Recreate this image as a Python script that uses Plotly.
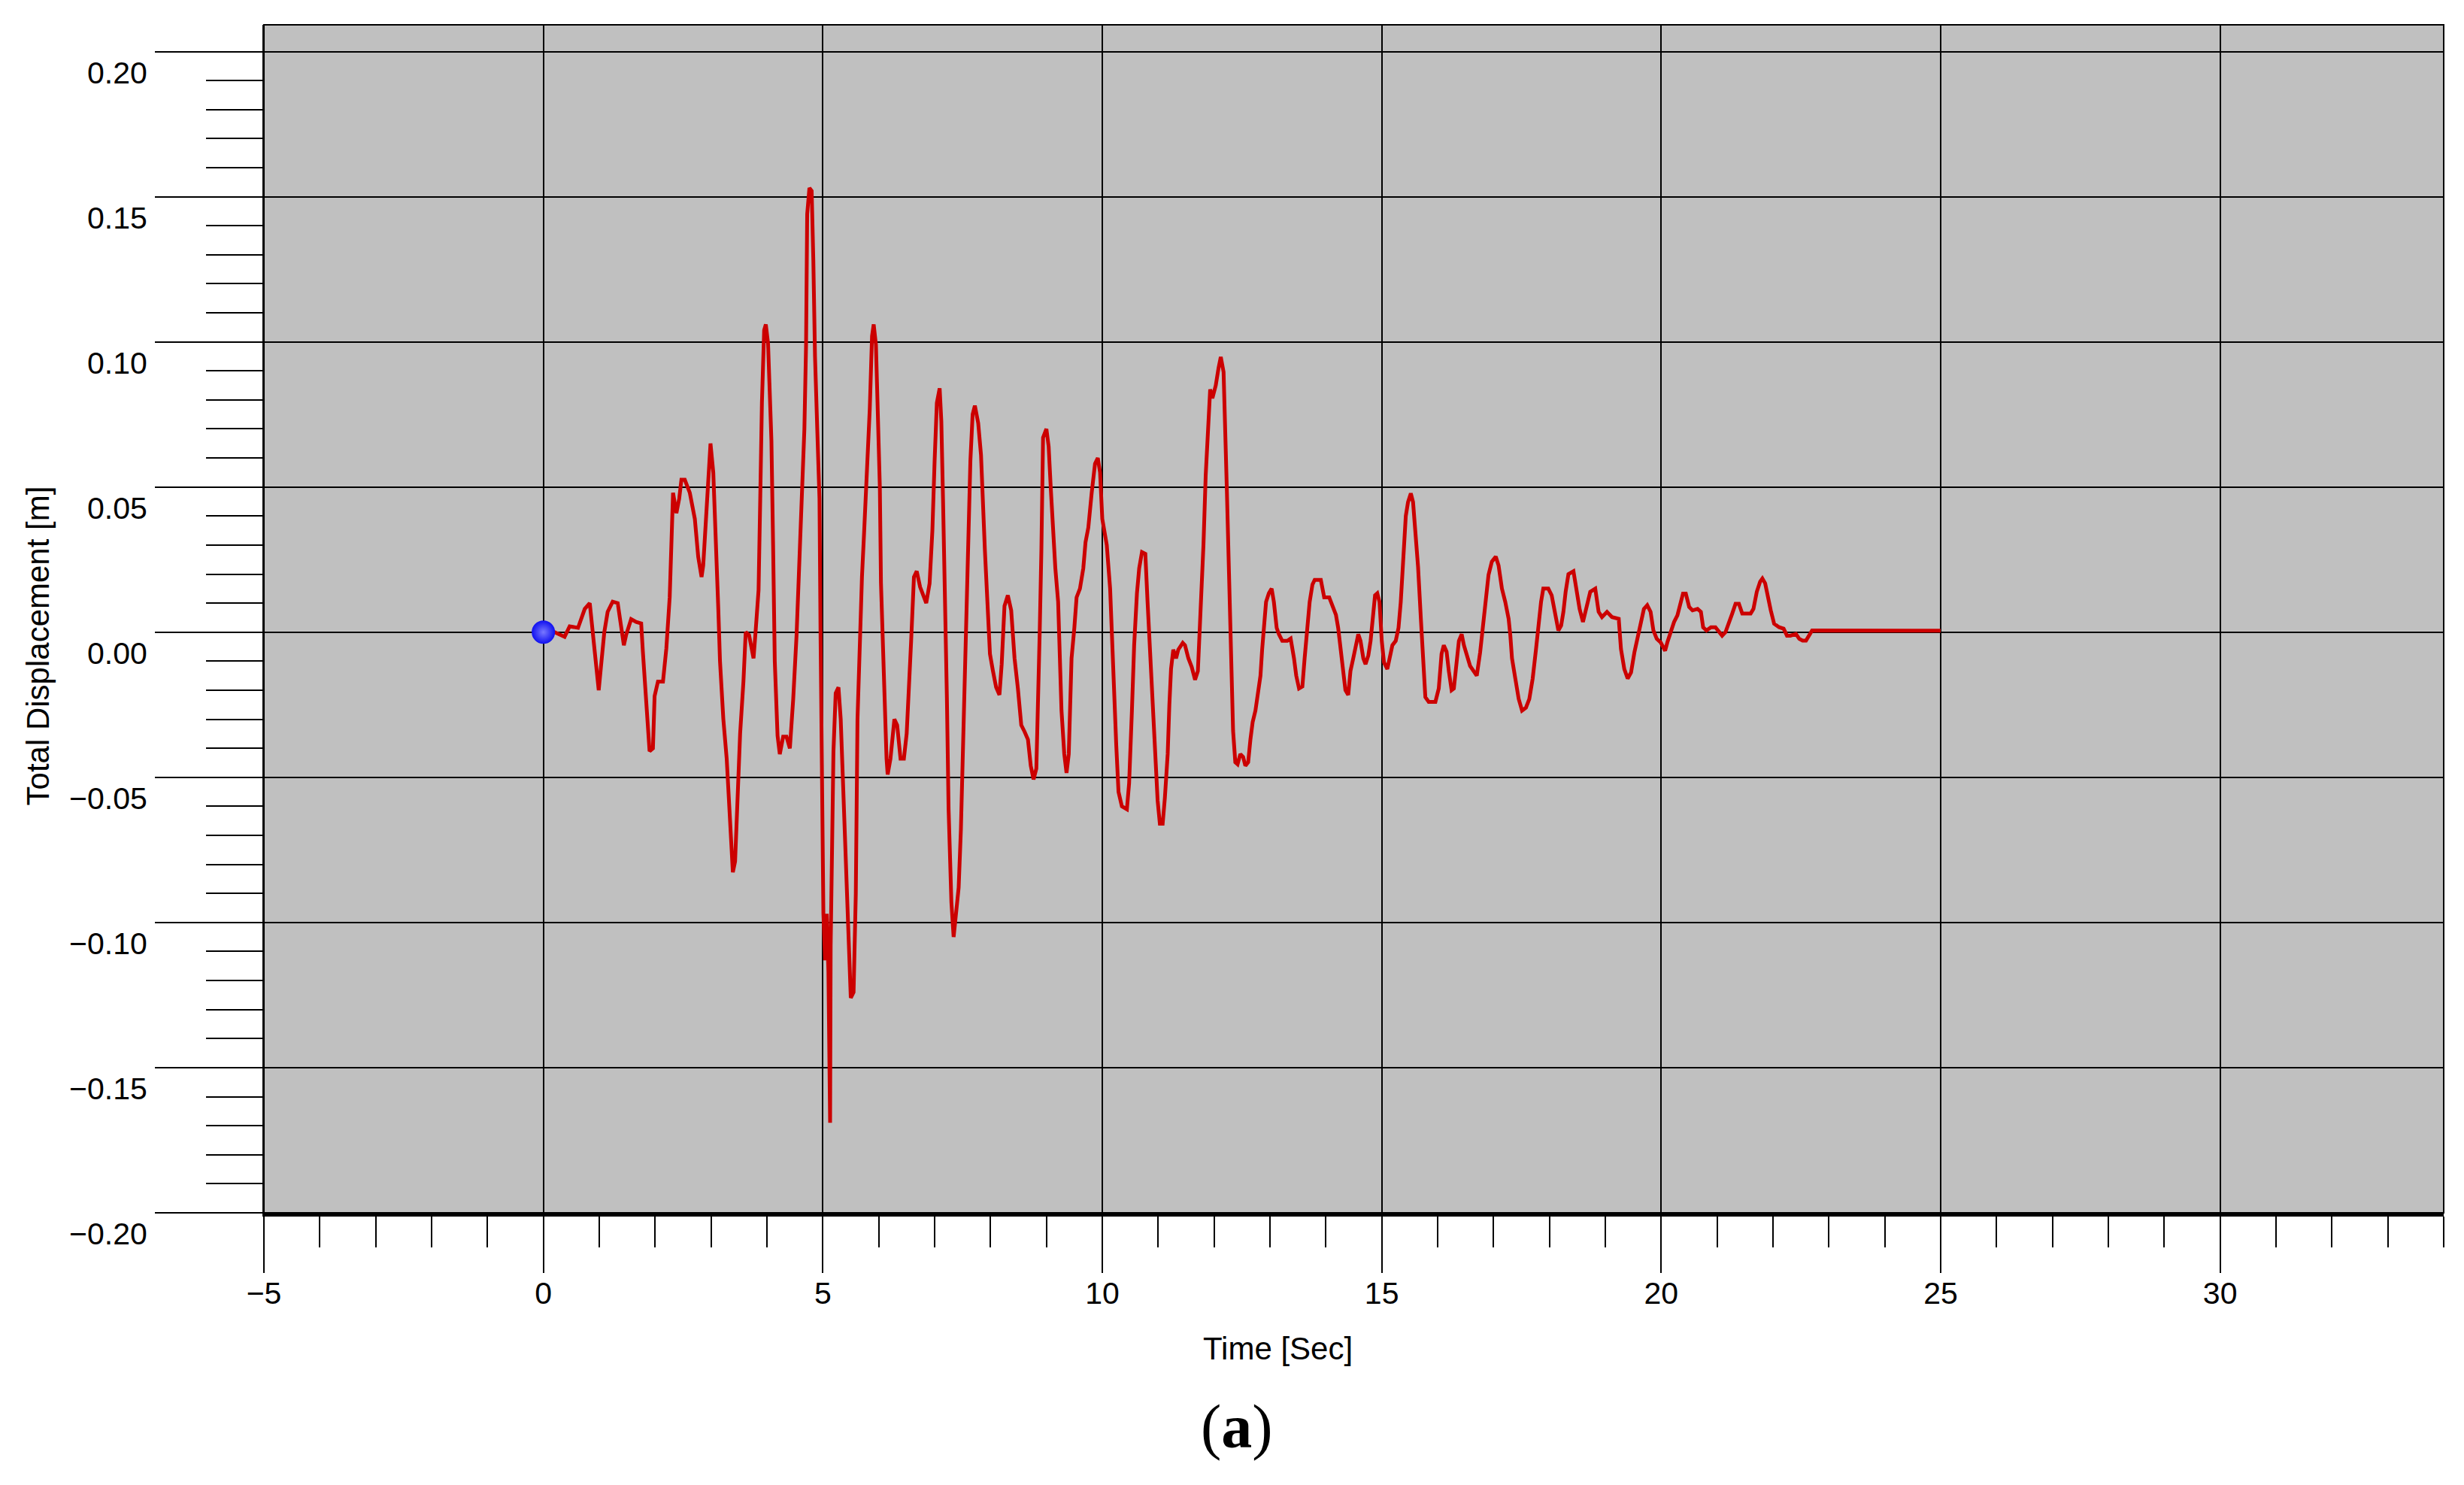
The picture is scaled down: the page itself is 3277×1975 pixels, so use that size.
import plotly.graph_objects as go

# Digitized time history (Time [Sec], Total Displacement [m])
time_s = [
    0.00, 0.20, 0.38, 0.47, 0.62, 0.74, 0.83, 0.88, 0.93, 0.99, 1.03, 1.09, 1.15, 1.24, 1.33, 1.39,
    1.44, 1.48, 1.57, 1.66, 1.75, 1.78, 1.84, 1.90, 1.96, 1.99, 2.05, 2.14, 2.20, 2.26, 2.29, 2.32,
    2.38, 2.43, 2.47, 2.53, 2.62, 2.71, 2.77, 2.83, 2.86, 2.91, 2.95, 2.99, 3.04, 3.09, 3.13, 3.16,
    3.22, 3.28, 3.34, 3.39, 3.43, 3.47, 3.52, 3.58, 3.62, 3.68, 3.76, 3.80, 3.85, 3.88, 3.91, 3.95,
    3.98, 4.02, 4.08, 4.11, 4.14, 4.19, 4.23, 4.29, 4.35, 4.41, 4.47, 4.53, 4.58, 4.62, 4.67, 4.70,
    4.72, 4.76, 4.80, 4.83, 4.86, 4.90, 4.94, 4.96, 4.98, 5.01, 5.04, 5.07, 5.10, 5.13, 5.14, 5.16,
    5.19, 5.23, 5.28, 5.32, 5.37, 5.42, 5.46, 5.50, 5.55, 5.59, 5.62, 5.66, 5.70, 5.74, 5.79, 5.84,
    5.88, 5.91, 5.95, 5.98, 6.02, 6.04, 6.09, 6.14, 6.16, 6.21, 6.28, 6.33, 6.39, 6.45, 6.50, 6.54,
    6.58, 6.63, 6.68, 6.74, 6.81, 6.85, 6.91, 6.96, 7.00, 7.04, 7.09, 7.12, 7.15, 7.19, 7.22, 7.25,
    7.30, 7.34, 7.39, 7.43, 7.47, 7.51, 7.54, 7.57, 7.60, 7.64, 7.68, 7.72, 7.78, 7.83, 7.90, 7.96,
    7.99, 8.04, 8.10, 8.16, 8.20, 8.25, 8.31, 8.37, 8.43, 8.49, 8.55, 8.61, 8.67, 8.72, 8.77, 8.82,
    8.85, 8.88, 8.91, 8.94, 9.00, 9.04, 9.08, 9.12, 9.16, 9.21, 9.24, 9.27, 9.32, 9.36, 9.40, 9.45,
    9.50, 9.54, 9.60, 9.66, 9.70, 9.75, 9.81, 9.87, 9.92, 9.96, 10.00, 10.08, 10.14, 10.20, 10.25, 10.29,
    10.35, 10.44, 10.48, 10.53, 10.57, 10.62, 10.66, 10.71, 10.77, 10.81, 10.86, 10.90, 10.94, 10.99, 11.03, 11.08,
    11.12, 11.17, 11.20, 11.23, 11.27, 11.32, 11.36, 11.44, 11.48, 11.54, 11.60, 11.66, 11.71, 11.73, 11.77, 11.81,
    11.85, 11.90, 11.93, 11.97, 12.03, 12.08, 12.12, 12.17, 12.20, 12.23, 12.27, 12.31, 12.34, 12.38, 12.42, 12.47,
    12.52, 12.56, 12.61, 12.65, 12.69, 12.74, 12.79, 12.83, 12.86, 12.89, 12.93, 12.98, 13.03, 13.07, 13.12, 13.16,
    13.22, 13.31, 13.37, 13.43, 13.47, 13.52, 13.58, 13.62, 13.67, 13.71, 13.76, 13.80, 13.91, 13.97, 14.06, 14.12,
    14.18, 14.22, 14.26, 14.31, 14.35, 14.40, 14.44, 14.49, 14.53, 14.58, 14.62, 14.67, 14.71, 14.76, 14.80, 14.84,
    14.88, 14.92, 14.96, 15.00, 15.04, 15.10, 15.14, 15.19, 15.25, 15.30, 15.34, 15.38, 15.43, 15.47, 15.52, 15.56,
    15.61, 15.65, 15.70, 15.74, 15.78, 15.84, 15.90, 15.96, 16.02, 16.07, 16.11, 16.16, 16.20, 16.25, 16.29, 16.33,
    16.38, 16.43, 16.47, 16.58, 16.64, 16.70, 16.76, 16.81, 16.85, 16.91, 16.97, 17.04, 17.09, 17.15, 17.21, 17.27,
    17.30, 17.33, 17.39, 17.45, 17.51, 17.58, 17.64, 17.70, 17.76, 17.81, 17.85, 17.89, 17.98, 18.04, 18.10, 18.16,
    18.21, 18.25, 18.29, 18.34, 18.43, 18.48, 18.54, 18.60, 18.66, 18.73, 18.82, 18.88, 18.94, 19.03, 19.12, 19.24,
    19.28, 19.34, 19.40, 19.46, 19.52, 19.58, 19.63, 19.69, 19.75, 19.81, 19.86, 19.92, 19.99, 20.07, 20.11, 20.18,
    20.23, 20.29, 20.35, 20.39, 20.44, 20.50, 20.56, 20.65, 20.71, 20.75, 20.81, 20.89, 20.97, 21.05, 21.09, 21.15,
    21.21, 21.27, 21.33, 21.39, 21.45, 21.51, 21.60, 21.65, 21.71, 21.77, 21.81, 21.86, 21.90, 21.96, 22.02, 22.11,
    22.19, 22.25, 22.31, 22.41, 22.47, 22.53, 22.59, 22.65, 22.70, 25.00,
]

displacement_m = [
    0.0, 0.0, -0.0016, 0.002, 0.0015, 0.008, 0.010, 0.001, -0.010, -0.020, -0.012, 0.0, 0.007, 0.0105, 0.010, 0.001,
    -0.0045, -0.001, 0.0045, 0.0035, 0.003, -0.0067, -0.023, -0.041, -0.040, -0.022, -0.017, -0.017, -0.0056, 0.012, 0.030, 0.048,
    0.041, 0.046, 0.0525, 0.0525, 0.048, 0.039, 0.026, 0.019, 0.023, 0.039, 0.057, 0.065, 0.055, 0.032, 0.0078, -0.010,
    -0.030, -0.0436, -0.066, -0.0827, -0.079, -0.057, -0.035, -0.0168, 0.0, -0.001, -0.009, 0.001, 0.0145, 0.046, 0.079, 0.104,
    0.106, 0.0994, 0.066, 0.030, -0.010, -0.0357, -0.042, -0.036, -0.036, -0.040, -0.023, -0.001, 0.023, 0.047, 0.070, 0.099,
    0.144, 0.153, 0.152, 0.128, 0.095, 0.070, 0.046, -0.003, -0.055, -0.097, -0.113, -0.097, -0.117, -0.169, -0.108, -0.084,
    -0.041, -0.021, -0.019, -0.030, -0.057, -0.079, -0.106, -0.126, -0.124, -0.090, -0.030, -0.001, 0.019, 0.035, 0.055, 0.077,
    0.102, 0.106, 0.099, 0.0815, 0.050, 0.017, -0.019, -0.0436, -0.049, -0.0436, -0.030, -0.032, -0.0436, -0.0436, -0.035, -0.021,
    -0.003, 0.019, 0.021, 0.0156, 0.012, 0.010, 0.0168, 0.035, 0.059, 0.079, 0.084, 0.0726, 0.046, 0.012, -0.023, -0.061,
    -0.093, -0.105, -0.097, -0.088, -0.068, -0.037, -0.0056, 0.0168, 0.037, 0.059, 0.075, 0.078, 0.072, 0.061, 0.028, 0.0075,
    -0.0075, -0.013, -0.019, -0.0216, -0.011, 0.009, 0.0127, 0.0075, -0.009, -0.0194, -0.032, -0.0343, -0.037, -0.046, -0.0507, -0.047,
    -0.028, 0.0, 0.028, 0.067, 0.070, 0.064, 0.049, 0.034, 0.022, 0.0104, -0.0067, -0.027, -0.042, -0.0485, -0.042, -0.009,
    0.0015, 0.012, 0.015, 0.022, 0.031, 0.036, 0.048, 0.058, 0.060, 0.055, 0.039, 0.030, 0.015, -0.018, -0.039, -0.055,
    -0.060, -0.061, -0.052, -0.027, -0.0045, 0.0134, 0.022, 0.0276, 0.027, 0.0104, -0.009, -0.028, -0.045, -0.058, -0.066, -0.066,
    -0.057, -0.042, -0.025, -0.0127, -0.006, -0.009, -0.006, -0.0037, -0.0045, -0.009, -0.012, -0.0164, -0.0134, -0.0045, 0.0104, 0.030,
    0.054, 0.076, 0.0836, 0.0806, 0.085, 0.091, 0.0948, 0.0896, 0.0724, 0.048, 0.018, -0.012, -0.034, -0.0448, -0.0455, -0.042,
    -0.043, -0.046, -0.0448, -0.037, -0.031, -0.027, -0.021, -0.015, -0.006, 0.003, 0.0104, 0.0134, 0.015, 0.0104, 0.0015, -0.0007,
    -0.003, -0.003, -0.0022, -0.009, -0.015, -0.0194, -0.0187, -0.009, 0.0015, 0.0104, 0.0164, 0.018, 0.018, 0.012, 0.012, 0.009,
    0.006, 0.0015, -0.006, -0.0134, -0.020, -0.0216, -0.0134, -0.009, -0.0045, -0.0007, -0.003, -0.009, -0.011, -0.008, -0.003, 0.006,
    0.0127, 0.0134, 0.0104, -0.003, -0.0104, -0.0127, -0.009, -0.0045, -0.003, 0.0015, 0.0104, 0.025, 0.040, 0.0448, 0.0478, 0.0448,
    0.034, 0.0224, 0.0045, -0.009, -0.0224, -0.024, -0.024, -0.024, -0.0194, -0.0075, -0.0045, -0.0067, -0.0134, -0.020, -0.0194, -0.012,
    -0.003, -0.0007, -0.0045, -0.0116, -0.0133, -0.015, -0.007, 0.0023, 0.009, 0.0197, 0.0243, 0.026, 0.023, 0.015, 0.0104, 0.0046,
    -0.001, -0.009, -0.016, -0.023, -0.027, -0.026, -0.023, -0.016, -0.0058, 0.0035, 0.0104, 0.015, 0.015, 0.0127, 0.007, 0.0006,
    0.0023, 0.007, 0.0139, 0.020, 0.021, 0.015, 0.008, 0.0035, 0.008, 0.0139, 0.015, 0.007, 0.0052, 0.007, 0.0052, 0.0046,
    -0.0058, -0.0127, -0.016, -0.0139, -0.007, -0.0012, 0.0035, 0.008, 0.0093, 0.007, 0.0006, -0.0023, -0.0035, -0.0064, -0.0035, 0.0012,
    0.0035, 0.0058, 0.0104, 0.0133, 0.0133, 0.0087, 0.0075, 0.008, 0.007, 0.0017, 0.0006, 0.0017, 0.0017, 0.0, -0.0012, 0.0,
    0.0029, 0.0064, 0.0098, 0.0098, 0.0064, 0.0064, 0.0064, 0.008, 0.0139, 0.0174, 0.0185, 0.0168, 0.0127, 0.0075, 0.0029, 0.0017,
    0.0012, -0.0012, -0.0012, -0.0006, -0.0023, -0.0029, -0.0029, -0.0012, 0.0006, 0.0005,
]

start_point_t = [0.0]
start_point_d = [0.0]

x_tickvals = [-5, 0, 5, 10, 15, 20, 25, 30]
y_tickvals = [-0.20, -0.15, -0.10, -0.05, 0.00, 0.05, 0.10, 0.15, 0.20]

FONT = "Liberation Sans, Arial, sans-serif"

fig = go.Figure()
fig.add_trace(go.Scatter(
    x=time_s, y=displacement_m, mode="lines",
    line=dict(color="#CC0000", width=5), showlegend=False, hoverinfo="skip",
))
fig.add_trace(go.Scatter(
    x=start_point_t, y=start_point_d, mode="markers",
    marker=dict(size=31, color="#1010F0", line=dict(width=0),
                gradient=dict(type="radial", color="#7878FF")),
    showlegend=False, hoverinfo="skip",
))

# page body has an 8px default margin -> figure is 16px smaller than window
fig.update_layout(
    width=3261, height=1959,
    margin=dict(l=343, r=19, t=25, b=354, autoexpand=False),
    paper_bgcolor="white", plot_bgcolor="#C0C0C0",
    font=dict(family=FONT, size=42, color="black"),
    showlegend=False,
)

fig.update_xaxes(
    range=[-5, 34], tickvals=x_tickvals, tickformat="d",
    ticks="outside", ticklen=75, tickwidth=2, tickcolor="black",
    minor=dict(dtick=1, tick0=0, ticks="outside", ticklen=41, tickwidth=2,
               tickcolor="black", showgrid=False),
    showgrid=True, gridcolor="black", gridwidth=2, zeroline=False,
    showline=True, linecolor="black", linewidth=5,
    tickfont=dict(family=FONT, size=41, color="black"),
    ticklabelstandoff=-8,
    automargin=False,
)
fig.update_yaxes(
    range=[-0.20, 0.2092], tickvals=y_tickvals, tickformat=".2f",
    ticks="outside", ticklen=143, tickwidth=2, tickcolor="black",
    minor=dict(dtick=0.01, tick0=0, ticks="outside", ticklen=75, tickwidth=2,
               tickcolor="black", showgrid=False),
    showgrid=True, gridcolor="black", gridwidth=2, zeroline=False,
    showline=True, linecolor="black", linewidth=2,
    tickfont=dict(family=FONT, size=41, color="black"),
    ticklabelshift=28, ticklabelstandoff=2,
    automargin=False,
)

# plot frame (top/right border)
fig.add_shape(type="rect", xref="paper", yref="paper", x0=0, x1=1, y0=0, y1=1,
              line=dict(color="black", width=2), fillcolor="rgba(0,0,0,0)", layer="above")

fig.add_annotation(text="Time [Sec]", xref="paper", yref="paper", x=0.465, y=-0.114,
                   xanchor="center", yanchor="middle", showarrow=False,
                   font=dict(family=FONT, size=42, color="black"))
fig.add_annotation(text="Total Displacement [m]", xref="paper", yref="paper", x=-0.1038, y=0.477,
                   xanchor="center", yanchor="middle", textangle=-90, showarrow=False,
                   font=dict(family=FONT, size=42, color="black"))
fig.add_annotation(text="(<b>a</b>)", xref="paper", yref="paper", x=0.4464, y=-0.180,
                   xanchor="center", yanchor="middle", showarrow=False,
                   font=dict(family="Liberation Serif, Times New Roman, serif", size=82, color="black"))

fig.write_html("out.html")
